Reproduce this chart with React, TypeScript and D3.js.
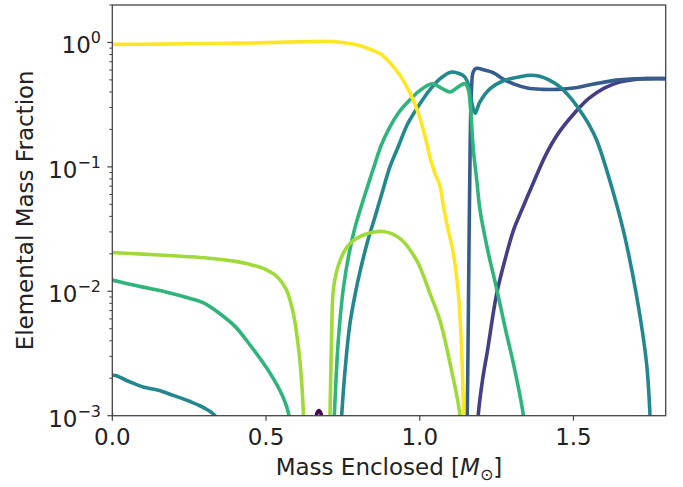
import React from "react";
import * as d3 from "d3";

// ---- data (x = mass enclosed in M_sun, y = elemental mass fraction) ----
const purplePts: [number, number][] = [
  [0.652, 0.0003], [0.66, 0.00085], [0.666, 0.00105], [0.672, 0.0011], [0.678, 0.00105], [0.684, 0.00085], [0.692, 0.0003],
];

const navyPts: [number, number][] = [
  [1.17, 0.0001], [1.185, 0.0006], [1.19, 0.001], [1.205, 0.002], [1.22, 0.0033], [1.25, 0.0095],
  [1.28, 0.019], [1.305, 0.031], [1.33, 0.044], [1.37, 0.075], [1.41, 0.125], [1.45, 0.185],
  [1.5, 0.265], [1.55, 0.355], [1.6, 0.43], [1.65, 0.48], [1.7, 0.505], [1.75, 0.512], [1.8, 0.512],
];

const bluePts: [number, number][] = [
  [1.14, 0.0001], [1.152, 0.0005], [1.156, 0.002], [1.16, 0.02], [1.164, 0.15], [1.168, 0.4],
  [1.174, 0.58], [1.184, 0.62], [1.21, 0.6], [1.24, 0.57], [1.27, 0.51], [1.305, 0.465],
  [1.35, 0.43], [1.4, 0.42], [1.45, 0.42], [1.5, 0.43], [1.55, 0.455], [1.6, 0.48],
  [1.65, 0.5], [1.7, 0.51], [1.75, 0.512], [1.8, 0.512],
];

const tealPts: [number, number][] = [
  [0.0, 0.0009], [0.0, 0.0021], [0.05, 0.0019], [0.1, 0.0017], [0.15, 0.0016], [0.2, 0.00145],
  [0.253, 0.0013], [0.3, 0.00115], [0.334, 0.001], [0.36, 0.0007], [0.4, 0.0001],
  [0.7, 0.0001], [0.738, 0.0004], [0.746, 0.001], [0.76, 0.0028], [0.773, 0.0055],
  [0.79, 0.0095], [0.806, 0.0145], [0.83, 0.025], [0.855, 0.04], [0.88, 0.065], [0.903, 0.1],
  [0.93, 0.145], [0.96, 0.22], [1.0, 0.32], [1.034, 0.42], [1.07, 0.52], [1.104, 0.578],
  [1.13, 0.56], [1.147, 0.527], [1.158, 0.46], [1.168, 0.34], [1.18, 0.27], [1.195, 0.33],
  [1.229, 0.425], [1.27, 0.49], [1.326, 0.53], [1.36, 0.545], [1.39, 0.535], [1.42, 0.5],
  [1.456, 0.44], [1.49, 0.36], [1.521, 0.284], [1.55, 0.22], [1.576, 0.163], [1.62, 0.075],
  [1.662, 0.031], [1.706, 0.009], [1.738, 0.0026], [1.749, 0.001], [1.756, 0.0003], [1.77, 0.0001],
];

const greenPts: [number, number][] = [
  [0.0, 0.0123], [0.05, 0.0115], [0.1, 0.0108], [0.15, 0.0102], [0.2, 0.0095], [0.25, 0.0088],
  [0.3, 0.008], [0.35, 0.0066], [0.4, 0.0052], [0.448, 0.0037], [0.513, 0.0022], [0.556, 0.0014],
  [0.575, 0.001], [0.59, 0.0004], [0.61, 0.0001], [0.69, 0.0001], [0.714, 0.0004],
  [0.722, 0.001], [0.735, 0.004], [0.752, 0.0108], [0.77, 0.02], [0.79, 0.033], [0.82, 0.058],
  [0.851, 0.1], [0.875, 0.15], [0.903, 0.21], [0.93, 0.27], [0.96, 0.33], [1.0, 0.41],
  [1.04, 0.466], [1.07, 0.43], [1.099, 0.4], [1.125, 0.44], [1.147, 0.466], [1.158, 0.42],
  [1.165, 0.3], [1.174, 0.14], [1.185, 0.08], [1.196, 0.045], [1.22, 0.022], [1.25, 0.0105],
  [1.28, 0.0048], [1.305, 0.0026], [1.337, 0.001], [1.345, 0.0005], [1.36, 0.0001],
];

const lightGreenPts: [number, number][] = [
  [0.0, 0.0205], [0.1, 0.0199], [0.2, 0.0193], [0.3, 0.0186], [0.4, 0.0174], [0.45, 0.0164],
  [0.5, 0.0149], [0.54, 0.0128], [0.567, 0.0102], [0.589, 0.0066], [0.605, 0.0036],
  [0.615, 0.002], [0.622, 0.001], [0.63, 0.0003], [0.64, 0.0001], [0.69, 0.0001],
  [0.703, 0.0004], [0.708, 0.001], [0.713, 0.004], [0.72, 0.0108], [0.741, 0.0177],
  [0.773, 0.0242], [0.828, 0.029], [0.882, 0.0302], [0.936, 0.0265], [0.99, 0.0177],
  [1.034, 0.0095], [1.066, 0.0058], [1.099, 0.0026], [1.131, 0.001], [1.14, 0.0004], [1.15, 0.0001],
];

const yellowPts: [number, number][] = [
  [0.0, 0.965], [0.15, 0.97], [0.3, 0.98], [0.45, 0.99], [0.6, 1.01], [0.7, 1.02], [0.75, 1.0],
  [0.8, 0.95], [0.85, 0.86], [0.875, 0.8], [0.9, 0.7], [0.93, 0.57], [0.96, 0.43],
  [0.98, 0.34], [1.0, 0.25], [1.02, 0.165], [1.035, 0.115], [1.05, 0.088], [1.066, 0.07],
  [1.076, 0.05], [1.09, 0.033], [1.108, 0.021], [1.125, 0.01], [1.135, 0.004],
  [1.142, 0.0012], [1.146, 0.0004], [1.15, 0.0001],
];

const seriesColors = ["#440154", "#433e85", "#365c8d", "#23888e", "#2fb47c", "#a0da39", "#fde725"];
const seriesData = [purplePts, navyPts, bluePts, tealPts, greenPts, lightGreenPts, yellowPts];

const xTicks = [0, 0.5, 1.0, 1.5];
const xTickLabels = ["0.0", "0.5", "1.0", "1.5"];
const yTicks = [1e-3, 1e-2, 1e-1, 1];
const yTickExps = ["−3", "−2", "−1", "0"];

export default function App() {
  const W = 683, H = 487;
  const left = 112.3, right = 665.7, top = 5, bottom = 415.7;
  const x = d3.scaleLinear().domain([0, 1.8]).range([left, right]);
  const y = d3.scaleLog().domain([1e-3, 2]).range([bottom, top]);
  const line = d3
    .line<[number, number]>()
    .x((d) => x(d[0]))
    .y((d) => y(d[1]))
    .curve(d3.curveCatmullRom.alpha(0.5));

  const minor: number[] = [];
  for (let k = -3; k <= 0; k++) {
    for (let m = 2; m <= 9; m++) {
      const v = m * Math.pow(10, k);
      if (v <= 2) minor.push(v);
    }
  }
  const axisColor = "#444";
  const font = "DejaVu Sans";

  return (
    <svg
      width={W}
      height={H}
      style={{ position: "absolute", left: 0, top: 0, background: "#fff" }}
      fontFamily={font}
    >
      <defs>
        <clipPath id="plotclip">
          <rect x={left} y={top} width={right - left} height={bottom - top} />
        </clipPath>
      </defs>
      <g clipPath="url(#plotclip)">
        {seriesData.map((pts, i) => (
          <path
            key={i}
            d={line(pts) || ""}
            fill="none"
            stroke={seriesColors[i]}
            strokeWidth={3.6}
            strokeLinejoin="round"
            strokeLinecap="round"
          />
        ))}
      </g>
      <rect
        x={left}
        y={top}
        width={right - left}
        height={bottom - top}
        fill="none"
        stroke={axisColor}
        strokeWidth={1.3}
      />
      {xTicks.map((t, i) => (
        <g key={"xt" + i}>
          <line x1={x(t)} x2={x(t)} y1={bottom} y2={bottom + 5} stroke={axisColor} strokeWidth={1.2} />
          <text x={x(t)} y={bottom + 29} textAnchor="middle" fontSize={23} fill="#222">
            {xTickLabels[i]}
          </text>
        </g>
      ))}
      {yTicks.map((t, i) => (
        <g key={"yt" + i}>
          <line x1={left - 5} x2={left} y1={y(t)} y2={y(t)} stroke={axisColor} strokeWidth={1.2} />
          <text x={101} y={y(t) + 11} textAnchor="end" fontSize={23} fill="#222">
            10
            <tspan dy={-10} fontSize={16}>
              {yTickExps[i]}
            </tspan>
          </text>
        </g>
      ))}
      {minor.map((v, i) => (
        <line key={"mn" + i} x1={left - 3} x2={left} y1={y(v)} y2={y(v)} stroke={axisColor} strokeWidth={1} />
      ))}
      <text x={(left + right) / 2} y={475} textAnchor="middle" fontSize={23} fill="#222">
        Mass Enclosed [<tspan fontStyle="italic">M</tspan>
        <tspan dy={5} fontSize={16}>⊙</tspan>
        <tspan dy={-5}>]</tspan>
      </text>
      <text
        transform={`translate(33, ${(top + bottom) / 2}) rotate(-90)`}
        textAnchor="middle"
        fontSize={23}
        fill="#222"
      >
        Elemental Mass Fraction
      </text>
    </svg>
  );
}
